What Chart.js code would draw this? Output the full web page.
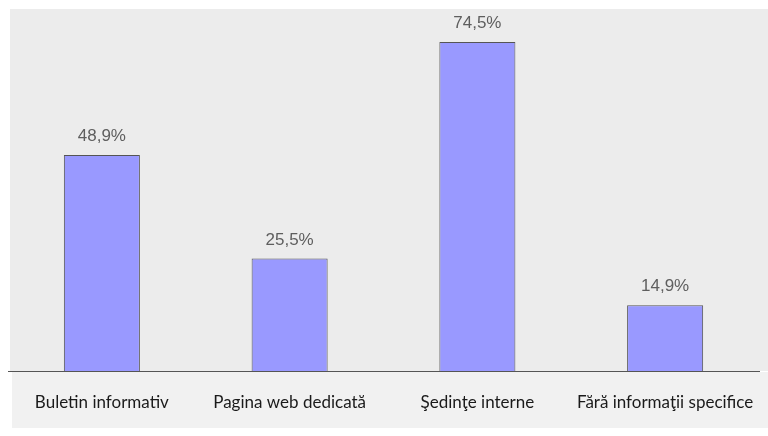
<!DOCTYPE html>
<html>
<head>
<meta charset="utf-8">
<script src="https://cdn.jsdelivr.net/npm/chart.js@4"></script>
<style>
  html, body { margin: 0; padding: 0; background: #fff; }
  #wrap { width: 768px; height: 436px; position: relative; }
</style>
</head>
<body>
<div id="wrap"><canvas id="chart"></canvas></div>
<script>
var categories = ['Buletin informativ', 'Pagina web dedicată', 'Şedinţe interne', 'Fără informaţii specifice'];
var values = [48.9, 25.5, 74.5, 14.9];
var valueLabels = ['48,9%', '25,5%', '74,5%', '14,9%'];

// gray panel behind the plot
var panelPlugin = {
    id: 'panel',
    beforeDraw: function(chart) {
        var ctx = chart.ctx;
        var area = chart.chartArea;
        ctx.save();
        ctx.fillStyle = '#ececec';
        ctx.fillRect(10, area.top, chart.width - 10, area.bottom - area.top);
        ctx.fillStyle = '#f1f1f1';
        ctx.fillRect(12, area.bottom + 1, chart.width - 12, 56);
        ctx.restore();
    }
};

// value labels above bars
var valuePlugin = {
    id: 'values',
    afterDatasetsDraw: function(chart) {
        var ctx = chart.ctx;
        var meta = chart.getDatasetMeta(0);
        ctx.save();
        ctx.font = '17px "Liberation Sans", Arial, sans-serif';
        ctx.fillStyle = '#5e5e5e';
        ctx.textAlign = 'center';
        ctx.textBaseline = 'bottom';
        meta.data.forEach(function(bar, i) {
            ctx.fillText(valueLabels[i], bar.x, bar.y - 10);
        });
        ctx.restore();
    }
};

new Chart(document.getElementById('chart'), {
    type: 'bar',
    data: {
        labels: categories,
        datasets: [{
            data: values,
            backgroundColor: '#9999ff',
            borderColor: '#555555',
            borderWidth: 1,
            barPercentage: 0.405,
            categoryPercentage: 1
        }]
    },
    options: {
        responsive: true,
        maintainAspectRatio: false,
        animation: false,
        layout: { padding: { left: 8, right: 9, top: 9, bottom: 0 } },
        plugins: {
            legend: { display: false },
            tooltip: { enabled: false }
        },
        scales: {
            x: {
                grid: { display: false, drawTicks: false },
                border: { display: true, color: '#555555', width: 1 },
                ticks: {
                    color: '#1a1a1a',
                    font: { family: 'Lato, "Open Sans", sans-serif', size: 17 },
                    padding: 21,
                    maxRotation: 0,
                    autoSkip: false
                },
                afterFit: function(scale) {
                    scale.height = 65;
                    scale.paddingLeft = 0;
                    scale.paddingRight = 0;
                }
            },
            y: {
                display: false,
                min: 0,
                max: 82
            }
        }
    },
    plugins: [panelPlugin, valuePlugin]
});
</script>
</body>
</html>
